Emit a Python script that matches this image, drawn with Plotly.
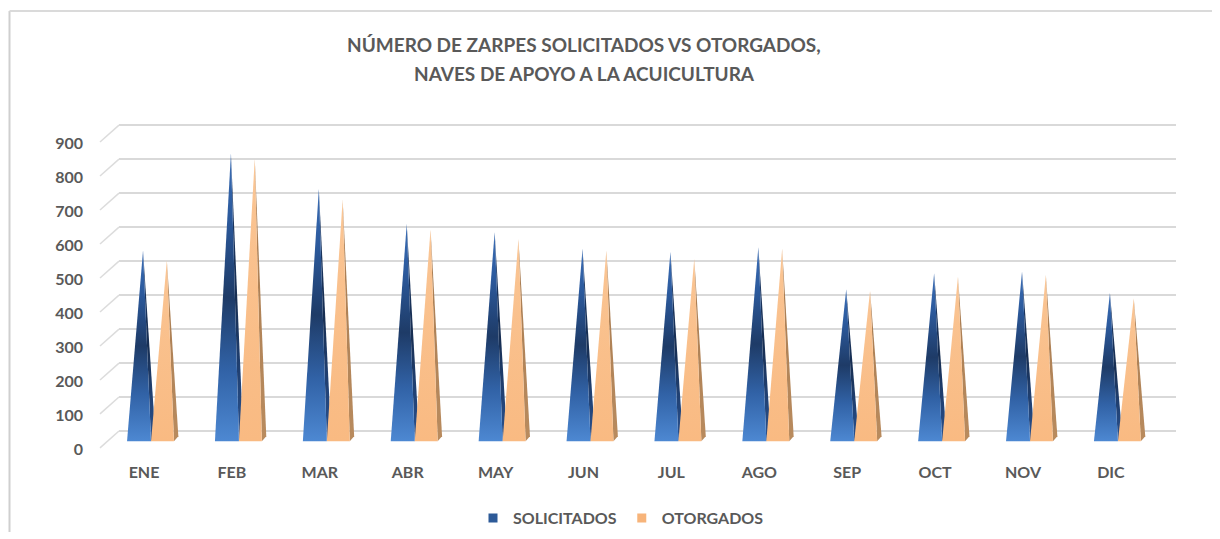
import plotly.graph_objects as go

# ---------------- data ----------------
months = ["ENE", "FEB", "MAR", "ABR", "MAY", "JUN", "JUL", "AGO", "SEP", "OCT", "NOV", "DIC"]
solicitados = [561, 847, 743, 639, 615, 566, 557, 571, 447, 494, 499, 436]
otorgados = [532, 832, 711, 624, 595, 561, 537, 566, 443, 484, 489, 421]
y_ticks = [0, 100, 200, 300, 400, 500, 600, 700, 800, 900]
title_lines = ["NÚMERO DE ZARPES SOLICITADOS VS OTORGADOS,", "NAVES DE APOYO A LA ACUICULTURA"]

# ---------------- geometry / style ----------------
OFF = 8                      # page body margin
DY = 7                       # vertical correction of plot area
W, H = 1220 - OFF, 539 - OFF
PX_PER_UNIT = 0.3444         # pixels per value unit
PX_PER_CAT = 87.9            # pixels per category
x_left_px, x_right_px = 119, 1176
plot_top_px, plot_bot_px = 110, 450
first_label_px = 144


def px(x):
    return (x - OFF) / W


def py(y):
    return (H - (y - OFF)) / H


def yrange(zero_px):
    return [(zero_px - plot_bot_px) / PX_PER_UNIT, (zero_px - plot_top_px) / PX_PER_UNIT]


x_range = [(x_left_px - first_label_px) / PX_PER_CAT, (x_right_px - first_label_px) / PX_PER_CAT]

# pyramid shape (in category units, relative to tick)
sol_a, sol_b, sol_tip = -0.193, 0.080, -0.011
oto_a, oto_b, oto_tip = 0.080, 0.341, 0.260
side_dx = 0.05
side_dy = 5 / PX_PER_UNIT

BLUE_FRONT = [[0, "#4D88D2"], [0.25, "#3162A6"], [0.5, "#1E3B67"], [0.78, "#2C5A9D"], [1, "#3B6EB6"]]
BLUE_SIDE = [[0, "#2A5290"], [0.5, "#172E52"], [1, "#1F3C69"]]
ORANGE_FRONT = [[0, "#F9BA82"], [1, "#FAC594"]]
ORANGE_SIDE = [[0, "#B98B5E"], [1, "#A67A50"]]

fig = go.Figure()


def face(xs, ys, scale, name):
    fig.add_trace(go.Scatter(
        x=xs, y=ys, mode="lines", fill="toself",
        line=dict(width=0), fillgradient=dict(type="vertical", colorscale=scale),
        hoverinfo="skip", showlegend=False, name=name))


for i, (vs, vo) in enumerate(zip(solicitados, otorgados)):
    # SOLICITADOS pyramid
    face([i + sol_b, i + sol_b + side_dx, i + sol_tip, i + sol_b], [0, side_dy, vs, 0], BLUE_SIDE, "s")
    face([i + sol_a, i + sol_b, i + sol_tip, i + sol_a], [0, 0, vs, 0], BLUE_FRONT, "s")
    # OTORGADOS pyramid
    face([i + oto_b, i + oto_b + side_dx, i + oto_tip, i + oto_b], [0, side_dy, vo, 0], ORANGE_SIDE, "o")
    face([i + oto_a, i + oto_b, i + oto_tip, i + oto_a], [0, 0, vo, 0], ORANGE_FRONT, "o")

# legend entries
fig.add_trace(go.Scatter(x=[None], y=[None], mode="markers", name="SOLICITADOS",
                         marker=dict(symbol="square", size=9, color="#2D5A98")))
fig.add_trace(go.Scatter(x=[None], y=[None], mode="markers", name="OTORGADOS",
                         marker=dict(symbol="square", size=9, color="#F7B47A")))

# helper traces to activate overlay axes
fig.add_trace(go.Scatter(x=[0], y=[0], yaxis="y2", mode="markers", marker=dict(opacity=0),
                         hoverinfo="skip", showlegend=False))
fig.add_trace(go.Scatter(x=[0], y=[0], yaxis="y3", mode="markers", marker=dict(opacity=0),
                         hoverinfo="skip", showlegend=False))

FONT = "Lato"
GREY = "#595959"

# diagonal stubs from front labels to the back wall gridlines
label_zero_px, grid_zero_px = 448.3, 429.7
stub_off = (label_zero_px - 1.5 - grid_zero_px) / PX_PER_UNIT
shapes = []
for t in y_ticks:
    shapes.append(dict(type="line", xref="paper", yref="y3",
                       x0=px(100), y0=t - stub_off, x1=px(x_left_px), y1=t,
                       line=dict(color="#DCDCDC", width=1.5)))
# chart border (left + top)
shapes.append(dict(type="line", xref="paper", yref="paper", x0=px(9.5), x1=px(9.5),
                   y0=0, y1=py(11), line=dict(color="#CFCFCF", width=2)))
shapes.append(dict(type="line", xref="paper", yref="paper", x0=px(9.5), x1=1,
                   y0=py(11), y1=py(11), line=dict(color="#DADADA", width=2)))

annotations = []
for k, (line, ypx) in enumerate(zip(title_lines, [45, 74])):
    annotations.append(dict(
        text=line, xref="paper", yref="paper", x=px(584), y=py(ypx),
        xanchor="center", yanchor="middle", showarrow=False,
        font=dict(size=19, family=FONT, color=GREY, weight="bold")))

fig.update_layout(
    width=W, height=H,
    margin=dict(l=0, r=0, t=0, b=0),
    paper_bgcolor="white", plot_bgcolor="rgba(0,0,0,0)",
    font=dict(family=FONT, color=GREY),
    xaxis=dict(domain=[px(x_left_px), px(x_right_px)], range=x_range,
               tickvals=list(range(len(months))), ticktext=months,
               tickfont=dict(size=16, family=FONT, color=GREY, weight="bold"),
               showgrid=False, zeroline=False, showline=False, ticks="",
               ticklabelstandoff=10),
    yaxis=dict(domain=[py(plot_bot_px + DY), py(plot_top_px + DY)], range=yrange(440),
               visible=False, showgrid=False, zeroline=False),
    yaxis2=dict(overlaying="y", anchor="free", position=px(83), side="left",
                range=yrange(label_zero_px), tickvals=y_ticks,
                tickfont=dict(size=16, family=FONT, color=GREY, weight="bold"),
                showgrid=False, zeroline=False, showline=False, ticks=""),
    yaxis3=dict(overlaying="y", range=yrange(grid_zero_px), tickvals=y_ticks,
                showticklabels=False, showgrid=True, gridcolor="#D9D9D9", gridwidth=2,
                zeroline=False, showline=False, ticks=""),
    shapes=shapes,
    legend=dict(orientation="h", x=px(621), xanchor="center", y=py(525), yanchor="middle",
                font=dict(size=16, family=FONT, color=GREY, weight="bold"),
                bgcolor="rgba(0,0,0,0)", itemclick=False),
    annotations=annotations,
)

fig.write_html("out.html")
